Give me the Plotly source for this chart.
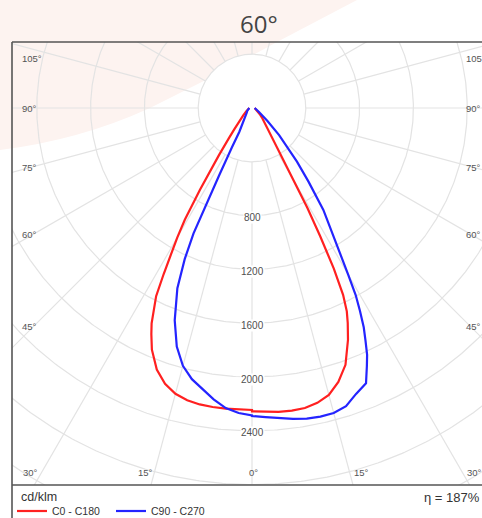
import numpy as np
import plotly.graph_objects as go

# ---------------- data ----------------
GAMMA = [0, 2.5, 5, 7.5, 10, 12.5, 15, 17.5, 20, 22.5, 24, 25, 26, 27, 28, 29,
         30, 31, 32.5, 35, 37.5, 40, 45, 50, 60, 70, 80, 90]

# red C0 - C180 (C0 right, C180 left), cd/klm
C0 = [2255, 2262, 2268, 2270, 2265, 2245, 2208, 2135, 2032, 1865, 1750, 1668, 1545,
      1340, 1080, 850, 600, 480, 380, 250, 190, 150, 110, 80, 50, 35, 25, 20]
C180 = [2245, 2245, 2244, 2242, 2238, 2225, 2200, 2150, 2070, 1945, 1840, 1766, 1670,
        1570, 1400, 1240, 1110, 970, 720, 430, 280, 200, 126, 85, 50, 35, 25, 20]
# blue C90 - C270 (C90 right, C270 left)
C90 = [2290, 2300, 2315, 2332, 2345, 2350, 2348, 2325, 2262, 2215, 2100, 2025, 1925,
       1830, 1710, 1590, 1430, 1290, 1130, 925, 690, 520, 285, 150, 60, 40, 30, 20]
C270 = [2285, 2270, 2240, 2185, 2120, 2065, 1985, 1860, 1680, 1450, 1230, 1030, 560,
        330, 200, 165, 130, 115, 105, 90, 80, 70, 60, 50, 40, 30, 25, 20]

SERIES_NAMES = ["C0 - C180", "C90 - C270"]
SERIES_COLORS = ["#ff2020", "#2424ff"]

RINGS = [400, 800, 1200, 1600, 2000, 2400, 2800, 3200, 3600, 4000]
RING_LABELS = [800, 1200, 1600, 2000, 2400]
SPOKE_ANGLES = list(range(0, 360, 15))
SIDE_LABELS = ["105°", "90°", "75°", "60°", "45°"]
BOTTOM_LABELS = ["30°", "15°", "0°", "15°", "30°"]

TITLE = "60°"
UNIT = "cd/klm"
ETA = "η = 187%"

# ---------------- geometry ----------------
W, H = 482, 518
S = 0.1345            # px per cd
CX, CY = 252, 108     # pole in pixels
BOX_L, BOX_T, BOX_B = 12, 42, 485


def px(x):
    return x / W


def py(y):
    return 1 - y / H


def to_xy(gam, val, sign):
    g = np.radians(np.asarray(gam, float))
    v = np.asarray(val, float)
    return sign * v * np.sin(g), -v * np.cos(g)


fig = go.Figure()

GRID = "#e3e3e3"
# rings
rx, ry = [], []
t = np.radians(np.linspace(0, 360, 721))
for r in RINGS:
    rx += list(r * np.sin(t)) + [None]
    ry += list(-r * np.cos(t)) + [None]
fig.add_trace(go.Scatter(x=rx, y=ry, mode="lines", line=dict(color=GRID, width=1.2),
                         hoverinfo="skip", showlegend=False))
# spokes
sx, sy = [], []
for a in SPOKE_ANGLES:
    ar = np.radians(a)
    sx += [RINGS[0] * np.sin(ar), 5000 * np.sin(ar), None]
    sy += [-RINGS[0] * np.cos(ar), -5000 * np.cos(ar), None]
fig.add_trace(go.Scatter(x=sx, y=sy, mode="lines", line=dict(color=GRID, width=1.2),
                         hoverinfo="skip", showlegend=False))

# curves
for (right, left), name, col in zip([(C0, C180), (C90, C270)], SERIES_NAMES, SERIES_COLORS):
    lx, ly = to_xy(GAMMA[::-1], left[::-1], -1)
    rxx, ryy = to_xy(GAMMA, right, 1)
    fig.add_trace(go.Scatter(x=np.concatenate([lx, rxx]), y=np.concatenate([ly, ryy]),
                             mode="lines", name=name,
                             line=dict(color=col, width=2.2), hoverinfo="skip"))

LBL = dict(family="Liberation Sans", size=9.5, color="#555")
ann = []
for r in RING_LABELS:
    ann.append(dict(x=0, y=-r, xref="x", yref="y", text=str(r), showarrow=False,
                    font=dict(family="Liberation Sans", size=10, color="#505050"),
                    bgcolor="white", borderpad=0, yshift=-2))

side_y = [58, 108, 167, 234, 326]
for lab, yy in zip(SIDE_LABELS, side_y):
    ann.append(dict(x=px(20), y=py(yy), xref="paper", yref="paper", text=lab,
                    xanchor="left", yanchor="middle", showarrow=False, font=LBL))
    ann.append(dict(x=px(464), y=py(yy), xref="paper", yref="paper", text=lab,
                    xanchor="left", yanchor="middle", showarrow=False, font=LBL))
bottom_x = [31, 145, 253, 361, 474]
for lab, xx in zip(BOTTOM_LABELS, bottom_x):
    ann.append(dict(x=px(xx), y=py(472), xref="paper", yref="paper", text=lab,
                    xanchor="center", yanchor="middle", showarrow=False, font=LBL))

ann.append(dict(x=px(259), y=py(23), xref="paper", yref="paper", text=TITLE,
                showarrow=False, xanchor="center", yanchor="middle",
                font=dict(family="Open Sans", size=24, color="#444")))
ann.append(dict(x=px(19), y=py(497), xref="paper", yref="paper", text=UNIT,
                showarrow=False, xanchor="left", yanchor="middle",
                font=dict(family="Liberation Sans", size=12.5, color="#333")))
ann.append(dict(x=px(482), y=py(497), xref="paper", yref="paper", text=ETA,
                showarrow=False, xanchor="right", yanchor="middle",
                font=dict(family="Liberation Sans", size=13, color="#333")))

pink = ("M {} {} L {} {} L {} {} Q {} {} {} {} Q {} {} {} {} Z").format(
    px(0), py(0), px(357), py(0), px(277), py(42), px(215), py(76), px(150), py(108),
    px(80), py(140), px(0), py(150))

shapes = [
    dict(type="path", path=pink, xref="paper", yref="paper", fillcolor="#fdf3f0",
         line=dict(width=0), layer="below"),
    dict(type="circle", xref="x", yref="y", x0=-RINGS[0], x1=RINGS[0], y0=-RINGS[0], y1=RINGS[0],
         fillcolor="white", line=dict(width=0), layer="below"),
    dict(type="line", xref="paper", yref="paper", x0=px(BOX_L), x1=px(BOX_L), y0=py(BOX_T), y1=py(H + 2),
         line=dict(color="#555", width=1.6)),
    dict(type="line", xref="paper", yref="paper", x0=px(BOX_L), x1=1.01, y0=py(BOX_T), y1=py(BOX_T),
         line=dict(color="#555", width=1.6)),
    dict(type="line", xref="paper", yref="paper", x0=px(BOX_L), x1=1.01, y0=py(BOX_B), y1=py(BOX_B),
         line=dict(color="#555", width=1.6)),
]

fig.update_layout(
    width=W, height=H, autosize=False,
    margin=dict(l=0, r=0, t=0, b=0, pad=0, autoexpand=False),
    paper_bgcolor="white", plot_bgcolor="rgba(0,0,0,0)",
    xaxis=dict(domain=[px(BOX_L), 1], range=[-(CX - BOX_L) / S, (W - CX) / S],
               visible=False, showgrid=False, zeroline=False, fixedrange=True),
    yaxis=dict(domain=[py(BOX_B), py(BOX_T)], range=[-(BOX_B - CY) / S, (CY - BOX_T) / S],
               visible=False, showgrid=False, zeroline=False, fixedrange=True),
    annotations=ann, shapes=shapes,
    showlegend=True,
    legend=dict(orientation="h", x=px(12), y=py(511), xanchor="left", yanchor="middle",
                entrywidth=54, entrywidthmode="pixels", bgcolor="rgba(0,0,0,0)",
                font=dict(family="Liberation Sans", size=10.5, color="#333"),
                itemclick=False, itemdoubleclick=False),
)

PAGE_FIX = (
    "var d=document.documentElement,b=document.body;"
    "d.style.margin='0';d.style.padding='0';d.style.overflow='hidden';"
    "b.style.margin='0';b.style.padding='0';b.style.overflow='hidden';"
)

fig.write_html("out.html", config={"displayModeBar": False, "staticPlot": True},
               post_script=PAGE_FIX)
